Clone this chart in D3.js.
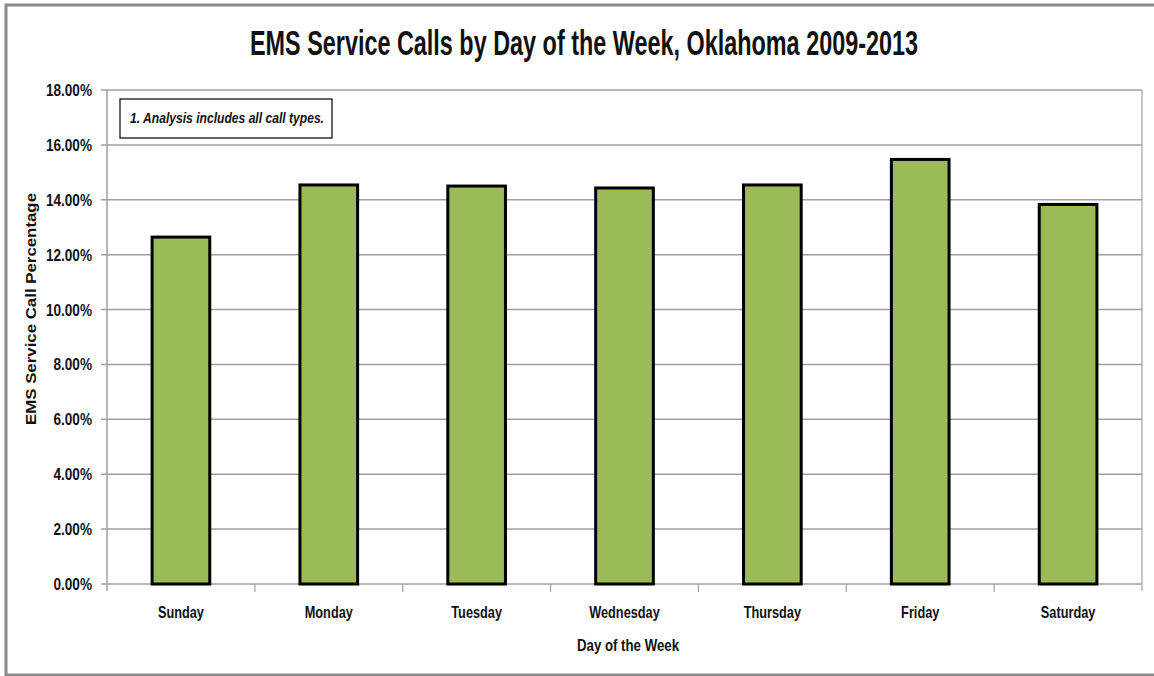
<!DOCTYPE html>
<html><head><meta charset="utf-8">
<script src="https://cdn.jsdelivr.net/npm/d3@7"></script>
<style>
html,body{margin:0;padding:0;background:#fff;}
svg{display:block;}
</style></head>
<body>
<script>
const days = ["Sunday","Monday","Tuesday","Wednesday","Thursday","Friday","Saturday"];
const callPct = [12.64, 14.54, 14.50, 14.43, 14.54, 15.47, 13.83];
const yTicks = [0,2,4,6,8,10,12,14,16,18];
const titleText = "EMS Service Calls by Day of the Week, Oklahoma 2009-2013";
const yTitle = "EMS Service Call Percentage";
const xTitle = "Day of the Week";
const noteText = "1. Analysis  includes all call types.";

const W = 1154, H = 676;
const svg = d3.select("body").append("svg").attr("width", W).attr("height", H);
const sans = "'Liberation Sans',Arial,sans-serif";

// condensed text helper (emulates Arial Narrow)
function ctext(parent, x, y, txt, size, sx, anchor, weight) {
  const g = parent.append("g").attr("transform", `translate(${x},${y}) scale(${sx},1)`);
  return g.append("text").attr("x",0).attr("y",0)
    .attr("text-anchor", anchor)
    .attr("font-family", sans).attr("font-weight", weight || "bold")
    .attr("font-size", size).attr("fill","#111").text(txt);
}

// outer frame
svg.append("rect").attr("x",6).attr("y",5).attr("width",W+10).attr("height",H-6)
  .attr("fill","none").attr("stroke","#8a8a8a").attr("stroke-width",3);

const pL = 107, pR = 1142, pT = 90, pB = 584;
const x = d3.scaleBand().domain(days).range([pL,pR]).paddingInner(0).paddingOuter(0);
const y = d3.scaleLinear().domain([0,18]).range([pB,pT]);

// gridlines
svg.append("g").selectAll("line").data(yTicks).join("line")
  .attr("x1",pL-6).attr("x2",pR)
  .attr("y1",d=>y(d)).attr("y2",d=>y(d))
  .attr("stroke","#a0a0a0").attr("stroke-width",1.5);
// right plot border
svg.append("line").attr("x1",pR).attr("x2",pR).attr("y1",pT).attr("y2",pB+7)
  .attr("stroke","#a0a0a0").attr("stroke-width",1.2);
// y axis line
svg.append("line").attr("x1",pL).attr("x2",pL).attr("y1",pT).attr("y2",pB+7)
  .attr("stroke","#a0a0a0").attr("stroke-width",1.5);
// x category ticks
svg.append("g").selectAll("line").data(days.slice(1)).join("line")
  .attr("x1",d=>x(d)).attr("x2",d=>x(d)).attr("y1",pB).attr("y2",pB+8)
  .attr("stroke","#a0a0a0").attr("stroke-width",1.2);

// y tick labels
const yl = svg.append("g");
yTicks.forEach(t => ctext(yl, 92, y(t)+6, t.toFixed(2)+"%", 17, 0.8, "end"));

// bars
const bw = x.bandwidth()*0.39;
svg.append("g").selectAll("rect").data(days).join("rect")
  .attr("x",(d)=>x(d)+x.bandwidth()/2-bw/2)
  .attr("width",bw)
  .attr("y",(d,i)=>y(callPct[i]))
  .attr("height",(d,i)=>y(0)-y(callPct[i]))
  .attr("fill","#9bbb59").attr("stroke","#000").attr("stroke-width",3);

// x labels
const xl = svg.append("g");
days.forEach(d => ctext(xl, x(d)+x.bandwidth()/2, 618, d, 17, 0.75, "middle"));

// x title
ctext(svg, 628, 651, xTitle, 17, 0.78, "middle");

// y title
svg.append("text").attr("transform","translate(35.5,309) rotate(-90)")
  .attr("text-anchor","middle")
  .attr("font-family",sans).attr("font-weight","bold").attr("font-size",14.5)
  .attr("textLength",232).attr("lengthAdjust","spacingAndGlyphs")
  .attr("fill","#111").text(yTitle);

// title
ctext(svg, 584, 55, titleText, 36, 0.65, "middle");

// note box
svg.append("rect").attr("x",120).attr("y",99).attr("width",212).attr("height",39)
  .attr("fill","#fff").attr("stroke","#000").attr("stroke-width",1.2);
svg.append("text").attr("x",130).attr("y",123)
  .attr("font-family",sans).attr("font-style","italic").attr("font-weight","bold").attr("font-size",14.5)
  .attr("textLength",194).attr("lengthAdjust","spacingAndGlyphs")
  .attr("fill","#111").text(noteText);
</script>
</body></html>
